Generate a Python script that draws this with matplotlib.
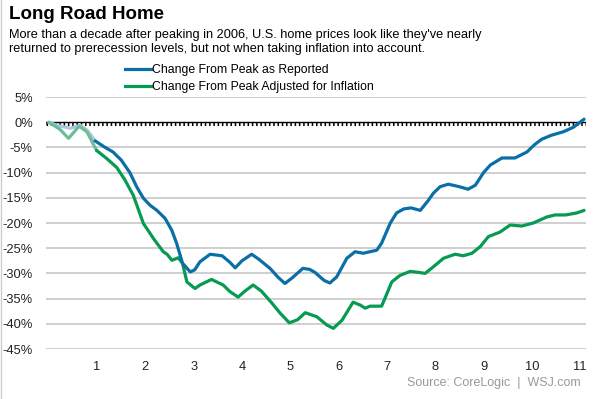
import numpy as np
import matplotlib.pyplot as plt
import matplotlib.transforms as mtransforms
from matplotlib.lines import Line2D

plt.rcParams['font.family'] = ['Liberation Sans', 'DejaVu Sans']

# years since the 2006 peak, change from peak in %
reportedYears = [0.00, 0.20, 0.45, 0.65, 0.80, 0.96, 1.15, 1.33, 1.50, 1.68, 1.82, 1.96,
                 2.10, 2.24, 2.41, 2.55, 2.65, 2.77, 2.93, 3.02, 3.13, 3.34, 3.59, 3.75,
                 3.86, 4.00, 4.20, 4.35, 4.58, 4.75, 4.89, 5.05, 5.26, 5.40, 5.51, 5.70,
                 5.82, 5.96, 6.17, 6.34, 6.51, 6.79, 6.89, 7.07, 7.20, 7.35, 7.50, 7.69,
                 7.85, 7.96, 8.10, 8.27, 8.50, 8.68, 8.83, 9.00, 9.14, 9.38, 9.65, 9.90,
                 10.05, 10.20, 10.40, 10.65, 10.86, 11.08]
reported = [0.0, -0.7, -1.2, -0.6, -1.6, -3.7, -4.9, -5.9, -7.5, -10.0, -12.8, -15.1,
            -16.5, -17.5, -19.1, -21.5, -24.1, -28.0, -29.7, -29.3, -27.7, -26.2, -26.5, -27.8,
            -28.9, -27.5, -26.2, -27.2, -29.0, -30.8, -32.0, -30.8, -29.0, -29.2, -29.8, -31.4,
            -31.9, -30.7, -27.0, -25.7, -26.0, -25.4, -24.0, -20.0, -18.0, -17.2, -17.0, -17.5,
            -15.6, -14.1, -12.8, -12.3, -12.8, -13.3, -12.5, -10.0, -8.5, -7.1, -7.1, -5.9,
            -4.5, -3.4, -2.6, -1.9, -1.0, 0.6]

adjustedYears = [0.00, 0.23, 0.41, 0.52, 0.63, 0.79, 0.99, 1.20, 1.41, 1.58, 1.75, 1.96,
                 2.17, 2.37, 2.45, 2.55, 2.68, 2.77, 2.86, 3.03, 3.13, 3.37, 3.61, 3.75,
                 3.92, 4.05, 4.23, 4.40, 4.62, 4.80, 4.98, 5.15, 5.31, 5.55, 5.75, 5.89,
                 6.07, 6.30, 6.45, 6.55, 6.65, 6.89, 7.10, 7.27, 7.48, 7.66, 7.79, 7.96,
                 8.17, 8.41, 8.58, 8.76, 8.93, 9.10, 9.34, 9.55, 9.79, 10.03, 10.31, 10.48,
                 10.70, 10.93, 11.08]
adjusted = [0.0, -1.4, -3.2, -2.0, -0.8, -1.9, -5.6, -7.2, -9.0, -11.5, -14.5, -20.1,
            -23.1, -25.7, -26.2, -27.4, -26.9, -28.0, -31.7, -33.0, -32.3, -31.2, -32.3, -33.6,
            -34.7, -33.6, -32.3, -33.5, -35.9, -38.0, -39.8, -39.2, -37.8, -38.6, -40.2, -40.9,
            -39.3, -35.7, -36.3, -36.9, -36.5, -36.5, -31.7, -30.4, -29.6, -29.8, -30.0, -28.7,
            -27.0, -26.2, -26.5, -26.0, -24.7, -22.7, -21.8, -20.4, -20.6, -20.0, -18.8, -18.4,
            -18.4, -18.0, -17.5]

fadeEnd = 1.0
yTicks = [5, 0, -5, -10, -15, -20, -25, -30, -35, -40, -45]
xTicks = list(range(1, 12))

blue = '#0a6fa6'
green = '#079a52'
lightBlue = '#a9c6e2'
lightGreen = '#6dbd99'

fig = plt.figure(figsize=(5.99, 3.99), dpi=100)
ax = fig.add_axes([46 / 599, 1 - 349 / 399, 540 / 599, 252 / 399])


def split(years, values):
    years = np.array(years)
    values = np.array(values)
    early = years <= fadeEnd
    late = np.r_[np.nonzero(early)[0][-1:], np.nonzero(~early)[0]]
    return years[early], values[early], years[late], values[late]


rx0, ry0, rx1, ry1 = split(reportedYears, reported)
gx0, gy0, gx1, gy1 = split(adjustedYears, adjusted)

for y in yTicks:
    if y != 0:
        ax.axhline(y, color='#cccccc', lw=1.3, zorder=1)

ax.plot(rx0, ry0, color=lightBlue, lw=2.3, zorder=3, solid_capstyle='round')
ax.plot(gx0, gy0, color=lightGreen, lw=2.3, zorder=3.5, solid_capstyle='round')

# zero line with small hash marks below it
ax.axhline(0, color='black', lw=1.0, zorder=2)
offset = mtransforms.offset_copy(ax.transData, fig=fig, x=0, y=-1.5, units='dots')
ax.plot([-0.05, 11.12], [0, 0], color='black', lw=2.2, dashes=(0.5, 0.9),
        transform=offset, zorder=2, solid_capstyle='butt', dash_capstyle='butt')

ax.plot(gx1, gy1, color=green, lw=2.3, zorder=4, solid_capstyle='round')
ax.plot(rx1, ry1, color=blue, lw=2.3, zorder=5, solid_capstyle='round')

ax.set_xlim(-0.056, 11.12)
ax.set_ylim(-45, 5)
ax.set_yticks(yTicks)
ax.set_yticklabels(['%d%%' % v for v in yTicks])
ax.set_xticks(xTicks)
ax.tick_params(length=0, labelsize=9.3, colors='#222222')
ax.tick_params(axis='x', pad=9)
ax.tick_params(axis='y', pad=9.5)
for s in ax.spines.values():
    s.set_visible(False)

fig.text(9 / 599, 1 - 6 / 399, 'Long Road Home', fontsize=13.5, fontweight='bold',
         va='top', ha='left')
fig.text(9 / 599, 1 - 29 / 399,
         "More than a decade after peaking in 2006, U.S. home prices look like they've nearly\n"
         "returned to prerecession levels, but not when taking inflation into account.",
         fontsize=9.15, va='top', ha='left', linespacing=1.22)

handles = [Line2D([], [], color=blue, lw=2.3), Line2D([], [], color=green, lw=2.3)]
fig.legend(handles, ['Change From Peak as Reported', 'Change From Peak Adjusted for Inflation'],
           loc='upper left', bbox_to_anchor=(125 / 599, 1 - 64 / 399), frameon=False,
           fontsize=8.8, handlelength=2.1, handletextpad=0.1, labelspacing=0.42,
           borderpad=0, borderaxespad=0)

fig.text(581 / 599, 1 - 383 / 399, 'Source: CoreLogic  |  WSJ.com', fontsize=9,
         color='#999999', ha='right', va='center')

fig.add_artist(Line2D([0.5 / 599, 0.5 / 599], [0, 1], color='#cccccc', lw=1))

fig.savefig('out.png', dpi=100)
